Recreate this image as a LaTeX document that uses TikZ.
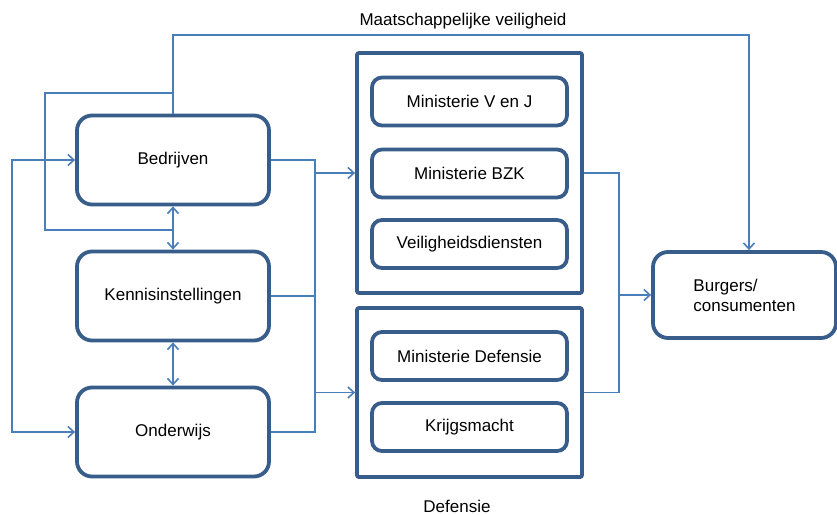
\documentclass[tikz,border=0pt]{standalone}
\usepackage{fontspec}
\setmainfont{Liberation Sans}
\usetikzlibrary{arrows.meta}
\definecolor{boxblue}{RGB}{56,93,138}
\definecolor{lineblue}{RGB}{74,126,187}
\tikzset{actor/.style={draw=boxblue, line width=3.8pt, rounded corners=15pt, minimum width=192pt, minimum height=89pt},
         groupbox/.style={draw=boxblue, line width=3.8pt, rounded corners=2pt, minimum width=225pt},
         innerbox/.style={draw=boxblue, line width=3.8pt, rounded corners=10pt, minimum width=195pt, minimum height=48pt},
         conn/.style={draw=lineblue, line width=1.6pt}}

\begin{document}
\begin{tikzpicture}[x=1pt,y=-1pt,font=\fontsize{17}{20}\selectfont,>={Straight Barb[length=6pt,width=11pt]}]
\useasboundingbox (0,0) rectangle (837,514);

% actors on the left
\node[actor] (bedr) at (173,160) {\raisebox{3pt}{Bedrijven}};
\node[actor] (kennis) at (173,296) {\raisebox{3pt}{Kennisinstellingen}};
\node[actor] (onder) at (173,432) {\raisebox{3pt}{Onderwijs}};

% groups in the middle
\node[groupbox, minimum height=240pt] (vgroup) at (469.5,173) {};
\node[groupbox, minimum height=169pt] (dgroup) at (469.5,392.5) {};
\foreach \nm/\y/\txt in {vj/101.5/Ministerie V en J, bzk/173.5/Ministerie BZK, vd/244/Veiligheidsdiensten,
                         mindef/356/Ministerie Defensie, krijg/427/Krijgsmacht}
         {
           \node[innerbox] (\nm) at (469.5,\y) {\txt};
         }

\node[actor, minimum width=183pt, minimum height=86pt, align=left] (burg) at (744.5,295) {Burgers/\\consumenten};

\node (mvlabel) at (463,21) {Maatschappelijke veiligheid};
\node (deflabel) at (457,506) {Defensie};

% connectors
\coordinate (mv) at (749,35);
\coordinate (lp1) at (45,93);
\coordinate (lp2) at (45,230);
\coordinate (lo) at (12,0);

\draw[conn,->] (bedr.north) |- (mv) -- (mv |- burg.north);
\draw[conn] (lp1 -| bedr.north) -- (lp1) -- (lp2) -- (lp2 -| bedr.south);
\draw[conn,<->] (bedr.south) -- (kennis.north);
\draw[conn,<->] (kennis.south) -- (onder.north);
\draw[conn,<->] (bedr.west) -- (bedr.west -| lo) -- (onder.west -| lo) -- (onder.west);

\draw[conn] (bedr.east) -- ++(44,0) coordinate (jl) -- (jl |- onder.east) -- (onder.east);
\draw[conn] (kennis.east) -- (kennis.east -| jl);
\draw[conn,->] (jl |- vgroup.west) -- (vgroup.west);
\draw[conn,->] (jl |- dgroup.west) -- (dgroup.west);

\draw[conn] (vgroup.east) -- ++(35,0) coordinate (jr) -- (jr |- dgroup.east) -- (dgroup.east);
\draw[conn,->] (jr |- burg.west) -- (burg.west);

\end{tikzpicture}
\end{document}
